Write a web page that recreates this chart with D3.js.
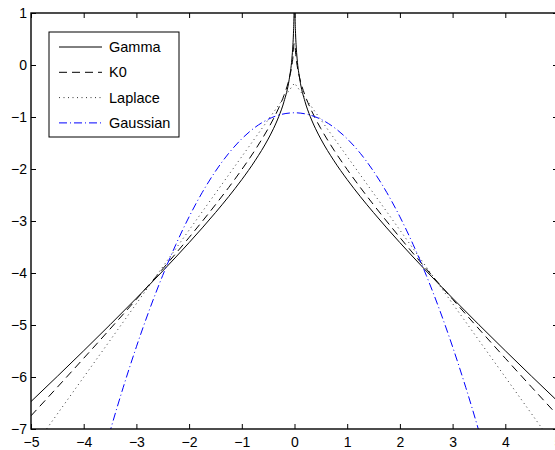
<!DOCTYPE html>
<html>
<head>
<meta charset="utf-8">
<script src="https://cdn.jsdelivr.net/npm/d3@7"></script>
<style>
  body { margin: 0; background: #fff; }
  svg { display: block; font-family: 'Liberation Sans', Arial, sans-serif; }
</style>
</head>
<body>
<div class="container"></div>
<script>
// log-densities
const gammaX = [-5, -4.5, -4, -3.5, -3, -2.5, -2, -1.5, -1.25, -1, -0.75, -0.5, -0.4, -0.3, -0.2, -0.1, -0.05, -0.03, -0.02, -0.01, -0.005,
  0.005, 0.01, 0.02, 0.03, 0.05, 0.1, 0.2, 0.3, 0.4, 0.5, 0.75, 1, 1.25, 1.5, 2, 2.5, 3, 3.5, 4, 4.5, 5];
const gammaY = [-6.472, -5.987, -5.495, -4.995, -4.485, -3.961, -3.416, -2.839, -2.532, -2.204, -1.843, -1.424, -1.226, -0.995, -0.706, -0.273, 0.117, 0.390, 0.601, 0.956, 1.307,
  1.307, 0.956, 0.601, 0.390, 0.117, -0.273, -0.706, -0.995, -1.226, -1.424, -1.843, -2.204, -2.532, -2.839, -3.416, -3.961, -4.485, -4.995, -5.495, -5.987, -6.472];

const k0X = [-5, -4.5, -4, -3.5, -3, -2.5, -2, -1.5, -1.25, -1, -0.75, -0.5, -0.4, -0.3, -0.2, -0.1, -0.05, -0.03, -0.02, -0.01,
  0.01, 0.02, 0.03, 0.05, 0.1, 0.2, 0.3, 0.4, 0.5, 0.75, 1, 1.25, 1.5, 2, 2.5, 3, 3.5, 4, 4.5, 5];
const k0Y = [-6.746, -6.196, -5.640, -5.077, -4.505, -3.920, -3.317, -2.687, -2.357, -2.010, -1.638, -1.223, -1.036, -0.828, -0.584, -0.258, -0.009, 0.143, 0.249, 0.407,
  0.407, 0.249, 0.143, -0.009, -0.258, -0.584, -0.828, -1.036, -1.223, -1.638, -2.010, -2.357, -2.687, -3.317, -3.920, -4.505, -5.077, -5.640, -6.196, -6.746];

const laplaceX = [-5, -4, -3, -2, -1, 0, 1, 2, 3, 4, 5];
const laplaceY = [-7.418, -6.003, -4.589, -3.175, -1.761, -0.347, -1.761, -3.175, -4.589, -6.003, -7.418];

const gaussX = [-3.75, -3.5, -3.25, -3, -2.75, -2.5, -2.25, -2, -1.75, -1.5, -1.25, -1, -0.75, -0.5, -0.25, 0,
  0.25, 0.5, 0.75, 1, 1.25, 1.5, 1.75, 2, 2.25, 2.5, 2.75, 3, 3.25, 3.5, 3.75];
const gaussY = [-7.950, -7.044, -6.200, -5.419, -4.700, -4.044, -3.450, -2.919, -2.450, -2.044, -1.700, -1.419, -1.200, -1.044, -0.950, -0.919,
  -0.950, -1.044, -1.200, -1.419, -1.700, -2.044, -2.450, -2.919, -3.450, -4.044, -4.700, -5.419, -6.200, -7.044, -7.950];

const xTicks = [-5, -4, -3, -2, -1, 0, 1, 2, 3, 4, 5];
const yTicks = [-7, -6, -5, -4, -3, -2, -1, 0, 1];

const series = [
  { name: 'Gamma', xs: gammaX, ys: gammaY, color: '#000', dash: null, curve: d3.curveMonotoneX },
  { name: 'K0', xs: k0X, ys: k0Y, color: '#000', dash: '8,5', curve: d3.curveMonotoneX },
  { name: 'Laplace', xs: laplaceX, ys: laplaceY, color: '#333', dash: '1,3.5', curve: d3.curveLinear },
  { name: 'Gaussian', xs: gaussX, ys: gaussY, color: '#0000ff', dash: '8,3,1,3', curve: d3.curveMonotoneX }
];

const width = 555;
const height = 450;
const plotLeft = 31, plotRight = 558, plotTop = 13, plotBottom = 429;

const svg = d3.select('.container').append('svg')
  .attr('width', width)
  .attr('height', height);

const xScale = d3.scaleLinear().domain([-5, 5]).range([plotLeft, plotRight]);
const yScale = d3.scaleLinear().domain([-7, 1]).range([plotBottom, plotTop]);

svg.append('clipPath').attr('id', 'plot-clip')
  .append('rect')
  .attr('x', plotLeft).attr('y', plotTop)
  .attr('width', plotRight - plotLeft).attr('height', plotBottom - plotTop);

const plot = svg.append('g').attr('clip-path', 'url(#plot-clip)');

series.forEach((s) => {
  const pts = s.xs.map((x, i) => [x, s.ys[i]]);
  const line = d3.line()
    .x((d) => xScale(d[0]))
    .y((d) => yScale(d[1]))
    .curve(s.curve);
  plot.append('path')
    .attr('d', line(pts))
    .attr('fill', 'none')
    .attr('stroke', s.color)
    .attr('stroke-width', 1)
    .attr('stroke-dasharray', s.dash);
});

// box axes, ticks inward
const tickLen = 5;
const styleAxis = (g) => {
  g.select('.domain').remove();
  g.selectAll('line').attr('stroke', '#000');
  g.selectAll('text').style('font-size', '14px').attr('fill', '#000');
};

svg.append('g')
  .attr('transform', `translate(0,${plotBottom})`)
  .call(d3.axisTop(xScale).tickValues(xTicks).tickSize(tickLen).tickFormat(''))
  .call(styleAxis);
svg.append('g')
  .attr('transform', `translate(0,${plotBottom})`)
  .call(d3.axisBottom(xScale).tickValues(xTicks).tickSize(0).tickPadding(8))
  .call(styleAxis);
svg.append('g')
  .attr('transform', `translate(0,${plotTop})`)
  .call(d3.axisBottom(xScale).tickValues(xTicks).tickSize(tickLen).tickFormat(''))
  .call(styleAxis);
svg.append('g')
  .attr('transform', `translate(${plotLeft},0)`)
  .call(d3.axisRight(yScale).tickValues(yTicks).tickSize(tickLen).tickFormat(''))
  .call(styleAxis);
svg.append('g')
  .attr('transform', `translate(${plotLeft},0)`)
  .call(d3.axisLeft(yScale).tickValues(yTicks).tickSize(0).tickPadding(4))
  .call(styleAxis);
svg.append('g')
  .attr('transform', `translate(${plotRight},0)`)
  .call(d3.axisLeft(yScale).tickValues(yTicks).tickSize(tickLen).tickFormat(''))
  .call(styleAxis);

svg.append('rect')
  .attr('x', plotLeft).attr('y', plotTop)
  .attr('width', plotRight - plotLeft).attr('height', plotBottom - plotTop)
  .attr('fill', 'none')
  .attr('stroke', '#000')
  .attr('stroke-width', 1.4);

// legend
const legend = svg.append('g').attr('id', 'legend');
const lgX = 49, lgY = 32, lgW = 130, lgH = 105;
legend.append('rect')
  .attr('x', lgX).attr('y', lgY)
  .attr('width', lgW).attr('height', lgH)
  .attr('fill', '#fff')
  .attr('stroke', '#000')
  .attr('stroke-width', 1);

series.forEach((s, i) => {
  const y = lgY + 15 + i * 25.3;
  legend.append('line')
    .attr('x1', lgX + 10).attr('x2', lgX + 53)
    .attr('y1', y).attr('y2', y)
    .attr('stroke', s.color)
    .attr('stroke-width', 1)
    .attr('stroke-dasharray', s.dash);
  legend.append('text')
    .attr('x', lgX + 60)
    .attr('y', y)
    .attr('dy', '0.35em')
    .style('font-size', '14.5px')
    .text(s.name);
});
</script>
</body>
</html>
